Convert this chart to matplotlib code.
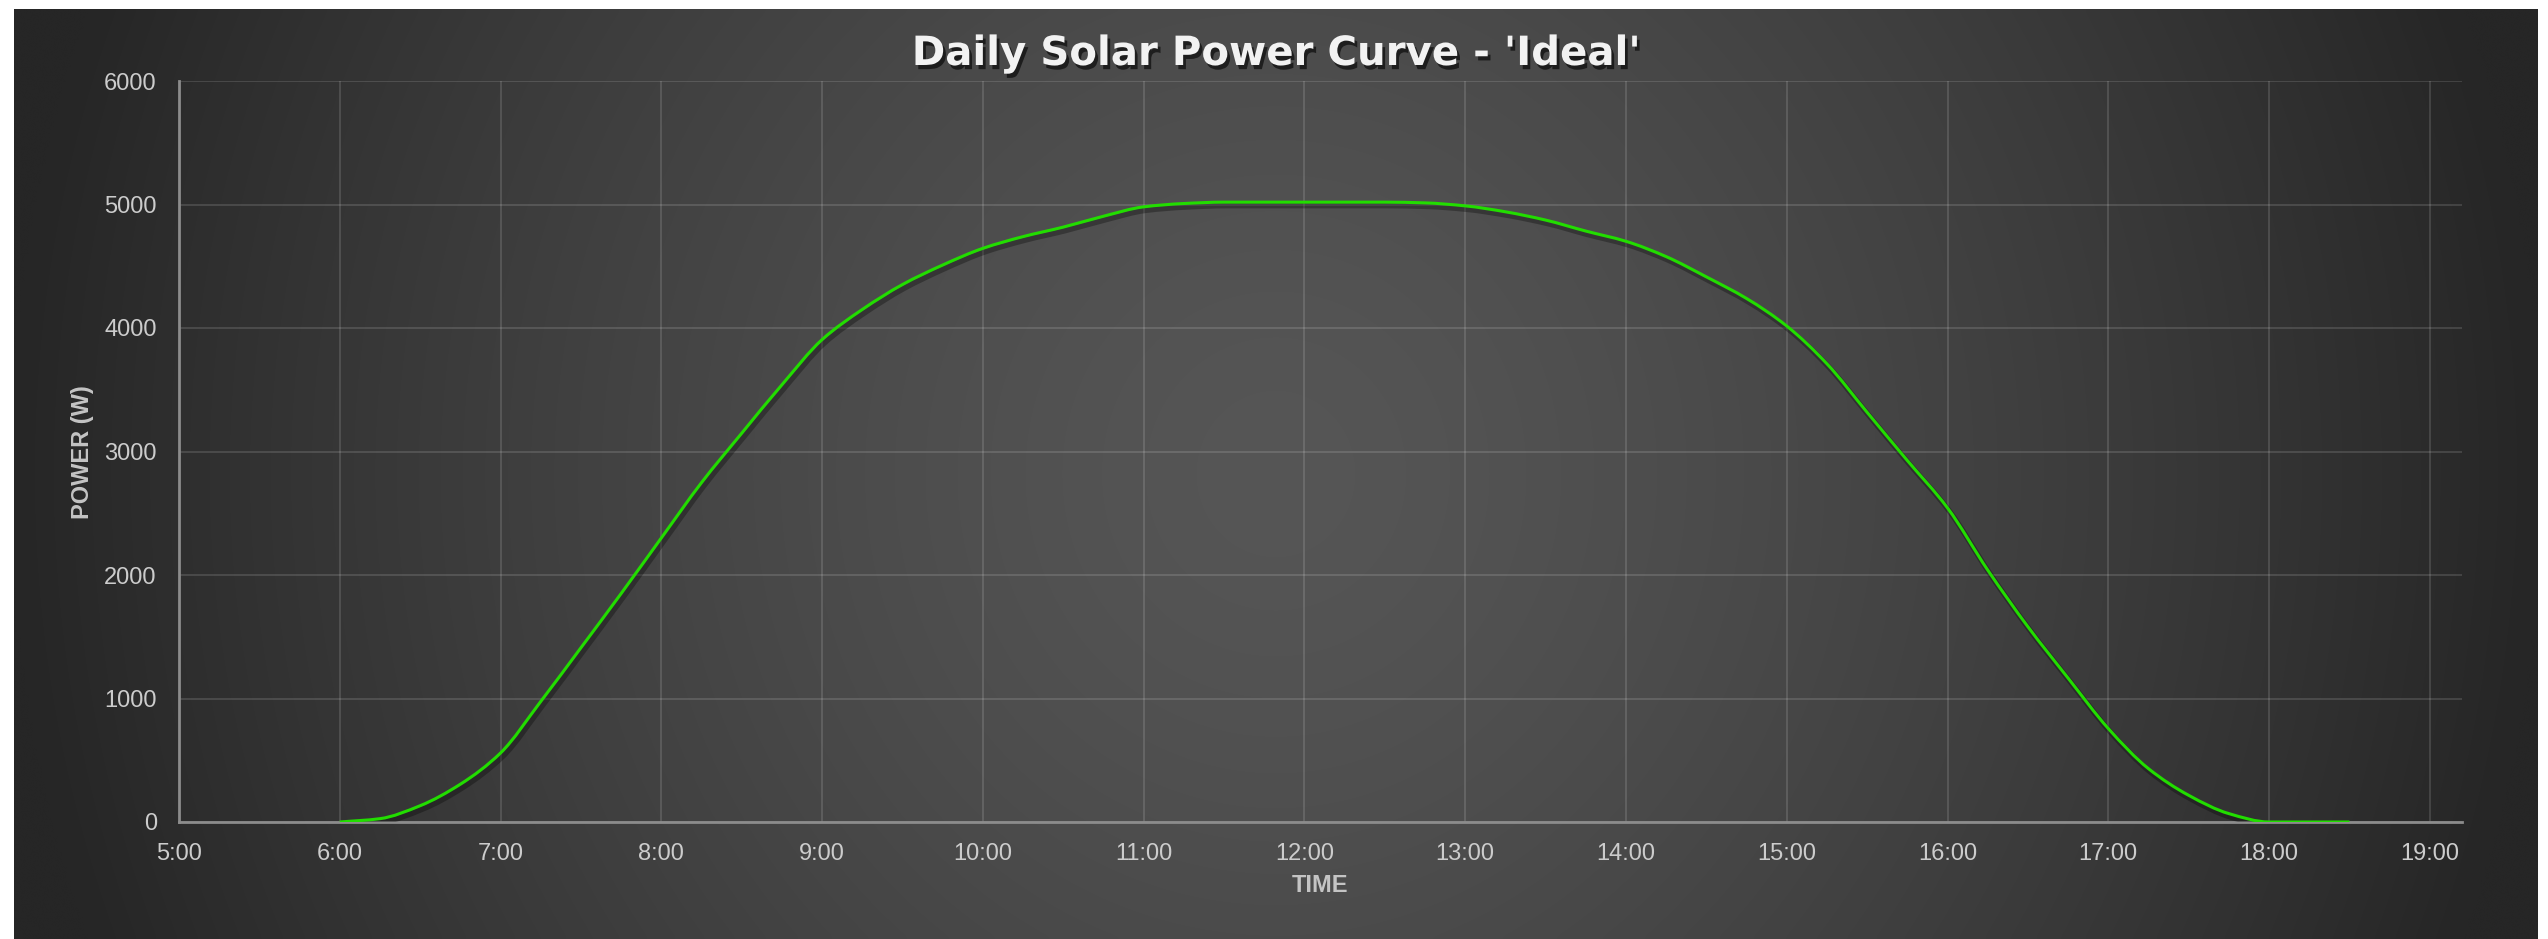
"""Daily solar power curve on a dark gradient panel."""

import matplotlib
matplotlib.use("Agg")
import matplotlib.pyplot as plt
import matplotlib.patheffects as pe
from matplotlib.path import Path
from matplotlib.patches import PathPatch
import numpy as np

# time of day in hours, sampled every 15 minutes
hours = [6.00, 6.25, 6.50, 6.75, 7.00, 7.25, 7.50, 7.75, 8.00, 8.25, 8.50, 8.75,
         9.00, 9.25, 9.50, 9.75, 10.00, 10.25, 10.50, 10.75, 11.00, 11.25, 11.50, 11.75,
         12.00, 12.25, 12.50, 12.75, 13.00, 13.25, 13.50, 13.75, 14.00, 14.25, 14.50, 14.75,
         15.00, 15.25, 15.50, 15.75, 16.00, 16.25, 16.50, 16.75, 17.00, 17.25, 17.50, 17.75,
         18.00, 18.25, 18.50]
power_w = [0, 27, 132, 306, 559, 976, 1411, 1850, 2300, 2748, 3148, 3540,
           3906, 4150, 4352, 4510, 4645, 4740, 4817, 4905, 4981, 5008, 5019, 5019,
           5019, 5019, 5019, 5013, 4989, 4941, 4874, 4785, 4702, 4578, 4414, 4239,
           4016, 3710, 3317, 2927, 2543, 2040, 1581, 1165, 757, 432, 216, 68,
           0, 0, 0]

x_ticks = list(range(5, 20))
x_tick_labels = [f"{h}:00" for h in x_ticks]
y_ticks = [0, 1000, 2000, 3000, 4000, 5000, 6000]


def spline_path(xs, ys):
    """Monotone cubic Bezier path through the points (like a charting 'spline')."""
    xs = np.asarray(xs, float)
    ys = np.asarray(ys, float)
    h = np.diff(xs)
    d = np.diff(ys) / h
    m = np.zeros_like(ys)
    m[0], m[-1] = d[0], d[-1]
    for i in range(1, len(ys) - 1):
        if d[i - 1] * d[i] > 0:
            m[i] = 2.0 / (1.0 / d[i - 1] + 1.0 / d[i])
    verts = [(xs[0], ys[0])]
    codes = [Path.MOVETO]
    for i in range(len(xs) - 1):
        verts += [(xs[i] + h[i] / 3, ys[i] + m[i] * h[i] / 3),
                  (xs[i + 1] - h[i] / 3, ys[i + 1] - m[i + 1] * h[i] / 3),
                  (xs[i + 1], ys[i + 1])]
        codes += [Path.CURVE4] * 3
    return Path(verts, codes)


W, H = 2548, 939
fig = plt.figure(figsize=(W / 100, H / 100), dpi=100, facecolor="white")

# dark panel with a soft light centre
bg = fig.add_axes([14 / W, 0, (2538 - 14) / W, 1 - 9 / H], zorder=-1)
gx = np.linspace(-1, 1, 600)
gy = np.linspace(-1, 1, 200)
X, Y = np.meshgrid(gx, gy)
r = np.clip(np.sqrt(X ** 2 + (Y * 0.35) ** 2), 0, 1)
shade = (86 - 48 * r ** 1.4) / 255.0
bg.imshow(np.dstack([shade, shade, shade]), aspect="auto", interpolation="bicubic",
          extent=(0, 1, 0, 1))
bg.set_axis_off()

ax = fig.add_axes([179 / W, 1 - 822 / H, (2462 - 179) / W, (822 - 81) / H])
ax.set_facecolor("none")

curve = PathPatch(spline_path(hours, power_w), facecolor="none", edgecolor="#22dd00",
                  lw=2.2, zorder=3,
                  path_effects=[pe.SimpleLineShadow(offset=(1.5, -2.5), shadow_color="black",
                                                    alpha=0.3, linewidth=4),
                                pe.Normal()])
ax.add_patch(curve)

ax.set_xlim(5, 19.2)
ax.set_ylim(0, 6000)
ax.set_xticks(x_ticks)
ax.set_xticklabels(x_tick_labels)
ax.set_yticks(y_ticks)
ax.grid(True, color="white", alpha=0.13, lw=1.5)
ax.set_axisbelow(True)
for side in ("top", "right"):
    ax.spines[side].set_visible(False)
for side in ("left", "bottom"):
    ax.spines[side].set_color("#8c8c8c")
    ax.spines[side].set_linewidth(2)
ax.tick_params(length=0, labelsize=17, labelcolor="#cccccc")
ax.tick_params(axis="y", pad=16)
ax.tick_params(axis="x", pad=15)
for lab in ax.get_xticklabels() + ax.get_yticklabels():
    lab.set_family("Liberation Sans")

fig.text(1276 / W, 1 - 54 / H, "Daily Solar Power Curve - 'Ideal'", ha="center", va="center",
         fontsize=29, fontweight="bold", color="#f2f2f2", family="DejaVu Sans",
         path_effects=[pe.withSimplePatchShadow(offset=(2, -3), shadow_rgbFace="black", alpha=0.6)])
fig.text(1320 / W, 1 - 886 / H, "TIME", ha="center", va="center", fontsize=17,
         fontweight="bold", color="#c4c4c4", family="Liberation Sans")
fig.text(82 / W, 1 - 452 / H, "POWER (W)", ha="center", va="center", rotation=90,
         fontsize=17, fontweight="bold", color="#c4c4c4", family="Liberation Sans")

fig.savefig("out.png", dpi=100, facecolor="white")
